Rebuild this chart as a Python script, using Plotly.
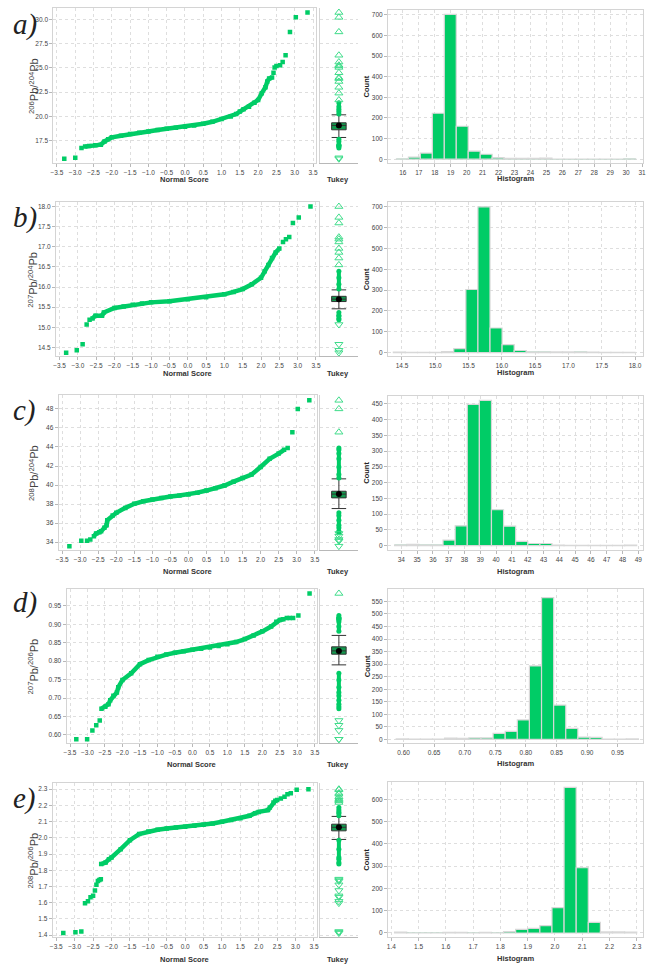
import plotly.graph_objects as go

W, H = 648, 968

# ---------------- data ----------------
# a) 206Pb/204Pb
a_body_score = [-2.73, -2.62, -2.45, -2.3, -2.2, -2.1, -2.0, -1.75, -1.5, -1.25, -1.0, -0.75, -0.5, -0.25, 0.0,
                0.25, 0.5, 0.75, 1.0, 1.25, 1.4, 1.5, 1.6, 1.75, 1.9, 2.0, 2.1, 2.2, 2.25, 2.3, 2.38]
a_body_value = [16.9, 16.97, 17.03, 17.1, 17.43, 17.65, 17.85, 18.02, 18.2, 18.33, 18.45, 18.6, 18.73, 18.83, 18.94,
                19.08, 19.25, 19.45, 19.73, 20.0, 20.25, 20.5, 20.75, 21.0, 21.4, 21.7, 22.4, 23.0, 23.6, 23.9, 24.0]
a_tail_score = [-3.3, -3.0, -2.83, 2.42, 2.45, 2.5, 2.6, 2.67, 2.75, 2.87, 3.03, 3.35]
a_tail_value = [15.65, 15.75, 16.75, 24.5, 25.05, 25.2, 25.27, 25.6, 26.3, 28.7, 30.2, 30.7]
a_box = [18.63, 19.08, 19.35, 17.84, 20.17]        # q1, median, q3, low whisker, high whisker
a_extreme = [16.6, 21.5]
a_bin_lo, a_bin_w = 15.6, 0.75
a_counts = [2, 10, 30, 223, 703, 160, 39, 24, 8, 4, 4, 4, 5, 1, 1, 1, 1, 1, 1, 2]

# b) 207Pb/204Pb
b_body_score = [-2.6, -2.52, -2.34, -2.29, -2.0, -1.75, -1.5, -1.25, -1.0, -0.5, 0.0, 0.5, 1.0, 1.25, 1.5, 1.75,
                2.0, 2.1, 2.2, 2.3, 2.4, 2.5]
b_body_value = [15.22, 15.29, 15.29, 15.37, 15.48, 15.52, 15.56, 15.59, 15.62, 15.65, 15.70, 15.75, 15.82, 15.88,
                15.95, 16.07, 16.23, 16.39, 16.55, 16.72, 16.86, 16.96]
b_tail_score = [-3.32, -3.03, -2.87, -2.76, -2.68, 2.6, 2.68, 2.77, 2.87, 3.03, 3.35]
b_tail_value = [14.37, 14.43, 14.58, 15.07, 15.19, 17.12, 17.19, 17.24, 17.59, 17.73, 18.0]
b_box = [15.64, 15.70, 15.77, 15.46, 15.93]
b_extreme = [15.1, 16.45]
b_bin_lo, b_bin_w = 14.37, 0.1815
b_counts = [2, 1, 1, 1, 5, 19, 303, 700, 118, 38, 10, 4, 4, 3, 3, 4, 2, 1, 1, 1]

# c) 208Pb/204Pb
c_body_score = [-2.62, -2.56, -2.47, -2.42, -2.33, -2.27, -2.25, -2.1, -2.0, -1.75, -1.5, -1.25, -1.0, -0.75,
                -0.5, -0.25, 0.0, 0.25, 0.5, 0.75, 1.0, 1.25, 1.5, 1.75, 2.0, 2.25, 2.5, 2.65]
c_body_value = [34.63, 34.91, 35.05, 35.15, 35.5, 35.78, 36.31, 36.8, 37.08, 37.6, 38.03, 38.3, 38.48, 38.65,
                38.8, 38.9, 39.0, 39.2, 39.42, 39.65, 39.95, 40.35, 40.75, 41.1, 41.9, 42.75, 43.3, 43.7]
c_tail_score = [-3.3, -2.97, -2.81, -2.72, 2.75, 2.88, 3.03, 3.35]
c_tail_value = [33.58, 34.14, 34.14, 34.28, 43.9, 45.55, 48.0, 48.9]
c_box = [38.65, 39.05, 39.35, 37.53, 40.65]
c_extreme = [35.0, 43.95]
c_bin_lo, c_bin_w = 33.58, 0.766
c_counts = [3, 4, 3, 3, 18, 63, 448, 461, 114, 62, 14, 7, 7, 2, 1, 1, 1, 1, 1, 2]

# d) 207Pb/206Pb
d_body_score = [-2.6, -2.49, -2.4, -2.35, -2.26, -2.16, -2.12, -2.0, -1.75, -1.5, -1.25, -1.0, -0.75, -0.5,
                -0.25, 0.0, 0.25, 0.5, 0.75, 1.0, 1.25, 1.5, 1.75, 2.0, 2.25, 2.4, 2.5, 2.6]
d_body_value = [0.671, 0.676, 0.683, 0.694, 0.706, 0.715, 0.729, 0.749, 0.767, 0.792, 0.803, 0.812, 0.818, 0.823,
                0.827, 0.831, 0.834, 0.837, 0.841, 0.846, 0.852, 0.860, 0.870, 0.881, 0.894, 0.907, 0.912, 0.914]
d_tail_score = [-3.32, -3.01, -2.86, -2.75, -2.65, 2.7, 2.78, 2.88, 3.03, 3.35]
d_tail_value = [0.588, 0.588, 0.612, 0.626, 0.639, 0.917, 0.917, 0.917, 0.924, 0.984]
d_box = [0.819, 0.828, 0.839, 0.790, 0.870]
d_extreme = [0.66, 0.93]
d_bin_lo, d_bin_w = 0.588, 0.0198
d_counts = [2, 1, 1, 1, 5, 4, 6, 6, 24, 32, 78, 293, 565, 137, 44, 9, 8, 1, 1, 2]

# e) 208Pb/206Pb
e_body_score = [-2.28, -2.16, -2.07, -2.0, -1.75, -1.5, -1.25, -1.0, -0.75, -0.5, -0.25, 0.0, 0.25, 0.5, 0.75,
                1.0, 1.25, 1.5, 1.75, 1.9, 2.0, 2.25, 2.3, 2.4, 2.45]
e_body_value = [1.838, 1.848, 1.868, 1.879, 1.93, 1.985, 2.023, 2.039, 2.05, 2.058, 2.063, 2.068, 2.074, 2.08,
                2.088, 2.099, 2.11, 2.121, 2.136, 2.152, 2.16, 2.171, 2.187, 2.218, 2.228]
e_tail_score = [-3.31, -2.98, -2.82, -2.72, -2.64, -2.57, -2.5, -2.45, -2.41, -2.37, -2.33, -2.29,
                2.5, 2.6, 2.7, 2.78, 2.87, 3.03, 3.35]
e_tail_value = [1.412, 1.418, 1.422, 1.597, 1.608, 1.634, 1.642, 1.675, 1.71, 1.733, 1.74, 1.745,
                2.234, 2.242, 2.253, 2.269, 2.275, 2.296, 2.30]
e_box = [2.043, 2.065, 2.084, 1.99, 2.132]
e_extreme = [1.80, 2.20]
e_bin_lo, e_bin_w = 1.412, 0.0444
e_counts = [4, 1, 1, 1, 3, 3, 1, 3, 1, 6, 16, 21, 33, 114, 654, 293, 48, 5, 5, 4]

# ---------------- styling / layout config ----------------
GREEN = '#00cc66'
TRI = '#3fdc8a'
BOXFILL = '#129a4e'
GRID = '#dedede'
LINE = '#b8b8b8'
FRAME = '#d4d4d4'
TICKC = '#444444'
FONT = 'Liberation Sans, Arial, sans-serif'

rows = [
    dict(letter='a)', sup1='206', sup2='204',
         body=(a_body_score, a_body_value), tail=(a_tail_score, a_tail_value), box=a_box, ext=a_extreme,
         bins=(a_bin_lo, a_bin_w, a_counts),
         qq_x=(50.7, 315), qq_y=(8.3, 163.3), hs_y=(10, 163.3),
         y_range=[15.2, 31.13], y_dtick=2.5, y_fmt='.1f',
         h_xrange=[15.07, 31.06], h_xdtick=1, h_xfmt='d', h_yrange=[-19, 724], h_ydtick=100,
         lab_y=180, hist_lab_y=179, letter_y=25),
    dict(letter='b)', sup1='207', sup2='204',
         body=(b_body_score, b_body_value), tail=(b_tail_score, b_tail_value), box=b_box, ext=b_extreme,
         bins=(b_bin_lo, b_bin_w, b_counts),
         qq_x=(53.3, 318), qq_y=(202.7, 356.7), hs_y=(202.7, 356.7),
         y_range=[14.28, 18.1], y_dtick=0.5, y_fmt='.1f',
         h_xrange=[14.29, 18.12], h_xdtick=0.5, h_xfmt='.1f', h_yrange=[-18, 721], h_ydtick=100,
         lab_y=373.7, hist_lab_y=372.7, letter_y=218),
    dict(letter='c)', sup1='208', sup2='204',
         body=(c_body_score, c_body_value), tail=(c_tail_score, c_tail_value), box=c_box, ext=c_extreme,
         bins=(c_bin_lo, c_bin_w, c_counts),
         qq_x=(56, 316.7), qq_y=(395.3, 551), hs_y=(396, 550.7),
         y_range=[33.13, 49.47], y_dtick=2, y_fmt='d',
         h_xrange=[33.16, 49.3], h_xdtick=1, h_xfmt='d', h_yrange=[-14, 476], h_ydtick=50,
         lab_y=572.3, hist_lab_y=571.7, letter_y=411),
    dict(letter='d)', sup1='207', sup2='206',
         body=(d_body_score, d_body_value), tail=(d_tail_score, d_tail_value), box=d_box, ext=d_extreme,
         bins=(d_bin_lo, d_bin_w, d_counts),
         qq_x=(64, 316.7), qq_y=(590, 743.7), hs_y=(590, 744),
         y_range=[0.578, 0.995], y_dtick=0.05, y_fmt='.2f',
         h_xrange=[0.5746, 0.9915], h_xdtick=0.05, h_xfmt='.2f', h_yrange=[-15, 598], h_ydtick=50,
         lab_y=765.3, hist_lab_y=764.3, letter_y=603),
    dict(letter='e)', sup1='208', sup2='206',
         body=(e_body_score, e_body_value), tail=(e_tail_score, e_tail_value), box=e_box, ext=e_extreme,
         bins=(e_bin_lo, e_bin_w, e_counts),
         qq_x=(50, 316), qq_y=(784, 938.3), hs_y=(783.3, 938.3),
         y_range=[1.386, 2.337], y_dtick=0.1, y_fmt='.1f',
         h_xrange=[1.388, 2.323], h_xdtick=0.1, h_xfmt='.1f', h_yrange=[-19.5, 676], h_ydtick=100,
         lab_y=960, hist_lab_y=959, letter_y=799),
]

TK_X = (319, 358)
HS_X = (388, 645)


def xdom(p):
    return [p[0] / W, p[1] / W]


def ydom(p):
    return [1 - p[1] / H, 1 - p[0] / H]


def note(text, xpx, ypx, size, color='#333333', angle=0, family=FONT):
    return dict(text=text, x=xpx / W, y=1 - ypx / H, xref='paper', yref='paper', showarrow=False,
                xanchor='center', yanchor='middle', textangle=angle,
                font=dict(size=size, color=color, family=family))


fig = go.Figure()
layout = dict(width=W, height=H, margin=dict(l=0, r=0, t=0, b=0),
              paper_bgcolor='white', plot_bgcolor='white', showlegend=False,
              font=dict(family=FONT, size=7, color=TICKC))
annotations = []

base_axis = dict(showgrid=True, gridcolor=GRID, griddash='dot', gridwidth=1, zeroline=False,
                 showline=True, linecolor=FRAME, linewidth=1, ticks='outside', ticklen=3,
                 tickcolor=LINE, tickfont=dict(size=6.5, color=TICKC, family=FONT))

for r, row in enumerate(rows):
    nq, nt, nh = 3 * r + 1, 3 * r + 2, 3 * r + 3
    sq = '' if nq == 1 else str(nq)

    # ---- QQ plot
    bs, bv = row['body']
    ts, tv = row['tail']
    fig.add_trace(go.Scatter(x=bs, y=bv, mode='lines+markers',
                             line=dict(color=GREEN, width=4.5),
                             marker=dict(color=GREEN, size=4.5, symbol='square'),
                             xaxis='x' + sq, yaxis='y' + sq))
    fig.add_trace(go.Scatter(x=ts, y=tv, mode='markers',
                             marker=dict(color=GREEN, size=4.5, symbol='square'),
                             xaxis='x' + sq, yaxis='y' + sq))
    layout['xaxis' + sq] = dict(base_axis, domain=xdom(row['qq_x']), anchor='y' + sq,
                                range=[-3.6, 3.57], dtick=0.5, tick0=0, tickformat='.1f', mirror=True)
    layout['yaxis' + sq] = dict(base_axis, domain=ydom(row['qq_y']), anchor='x' + sq,
                                range=row['y_range'], dtick=row['y_dtick'], tick0=0,
                                tickformat=row['y_fmt'], mirror=True)

    # ---- Tukey panel
    q1, med, q3, wlo, whi = row['box']
    elo, ehi = row['ext']
    vals = sorted(list(bv) + list(tv))
    mild_hi = [v for v in vals if whi < v <= ehi]
    mild_lo = [v for v in vals if elo <= v < wlo]
    ext_hi = [v for v in vals if v > ehi]
    ext_lo = [v for v in vals if v < elo]
    st = str(nt)
    for grp in (mild_hi, mild_lo):
        fig.add_trace(go.Scatter(x=[0] * len(grp), y=grp, mode='lines+markers',
                                 line=dict(color=GREEN, width=4),
                                 marker=dict(color=GREEN, size=5),
                                 xaxis='x' + st, yaxis='y' + st))
    fig.add_trace(go.Scatter(x=[0] * len(ext_hi), y=ext_hi, mode='markers',
                             marker=dict(color=TRI, size=7, symbol='triangle-up-open', line=dict(width=1)),
                             xaxis='x' + st, yaxis='y' + st))
    fig.add_trace(go.Scatter(x=[0] * len(ext_lo), y=ext_lo, mode='markers',
                             marker=dict(color=TRI, size=7, symbol='triangle-down-open', line=dict(width=1)),
                             xaxis='x' + st, yaxis='y' + st))
    fig.add_trace(go.Box(x=[0], q1=[q1], median=[med], q3=[q3], lowerfence=[wlo], upperfence=[whi],
                         width=0.75, whiskerwidth=1.0, fillcolor=BOXFILL,
                         line=dict(color='#333333', width=1), boxpoints=False,
                         xaxis='x' + st, yaxis='y' + st))
    fig.add_trace(go.Scatter(x=[0], y=[med], mode='markers',
                             marker=dict(color='black', size=6),
                             xaxis='x' + st, yaxis='y' + st))
    layout['xaxis' + st] = dict(domain=xdom(TK_X), anchor='y' + st, range=[-1, 1],
                                showgrid=False, zeroline=False, showticklabels=False, ticks='',
                                showline=True, linecolor=LINE)
    layout['yaxis' + st] = dict(domain=ydom(row['qq_y']), anchor='x' + st, range=row['y_range'],
                                dtick=row['y_dtick'], tick0=0, showgrid=True, gridcolor=GRID,
                                griddash='dot', zeroline=False, showticklabels=False, ticks='',
                                showline=True, linecolor=FRAME)

    # ---- Histogram
    lo, w, counts = row['bins']
    centers = [lo + (i + 0.5) * w for i in range(len(counts))]
    sh = str(nh)
    fig.add_trace(go.Bar(x=centers, y=counts, width=w,
                         marker=dict(color=GREEN, line=dict(color='#d8d8d8', width=1.2)),
                         xaxis='x' + sh, yaxis='y' + sh))
    layout['xaxis' + sh] = dict(base_axis, domain=xdom(HS_X), anchor='y' + sh,
                                range=row['h_xrange'], dtick=row['h_xdtick'], tick0=0,
                                tickformat=row['h_xfmt'], mirror=True)
    layout['yaxis' + sh] = dict(base_axis, domain=ydom(row['hs_y']), anchor='x' + sh,
                                range=row['h_yrange'], dtick=row['h_ydtick'], tick0=0,
                                tickformat='d', mirror=True)

    # ---- text
    qy0, qy1 = row['qq_y']
    annotations += [
        note('<i>' + row['letter'] + '</i>', 22, row['letter_y'], 29, '#222222',
             family='Liberation Serif, Times New Roman, serif'),
        note('<sup>' + row['sup1'] + '</sup>Pb/<sup>' + row['sup2'] + '</sup>Pb',
             30.5, (qy0 + qy1) / 2, 11, '#444444', angle=-90),
        note('<b>Normal Score</b>', (row['qq_x'][0] + row['qq_x'][1]) / 2, row['lab_y'], 7.5),
        note('<b>Tukey</b>', 338, row['lab_y'], 7.5),
        note('<b>Histogram</b>', (HS_X[0] + HS_X[1]) / 2, row['hist_lab_y'], 7.5),
        note('<b>Count</b>', 366.7, (row['hs_y'][0] + row['hs_y'][1]) / 2, 7.5, '#222222', angle=-90),
    ]

layout['annotations'] = annotations
fig.update_layout(**layout)
fig.write_html('out.html')
